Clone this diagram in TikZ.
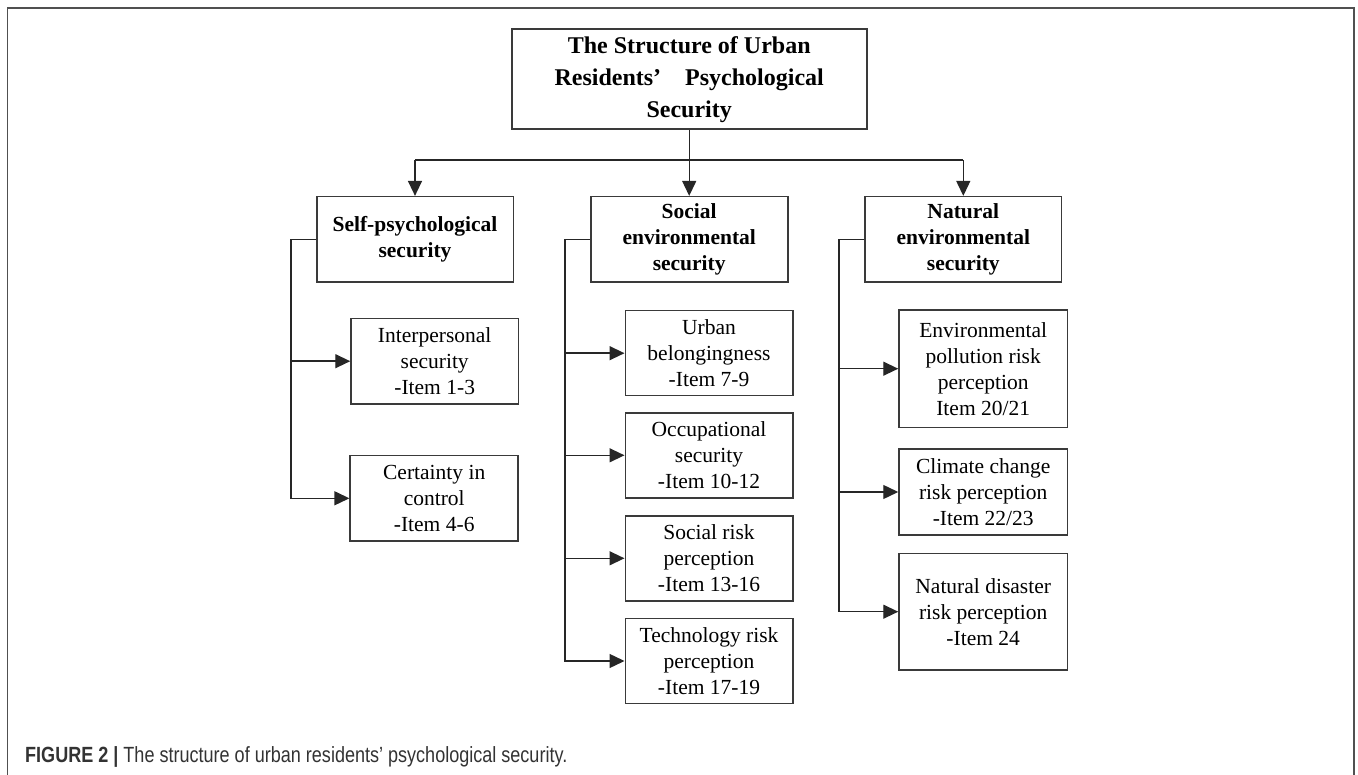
\documentclass[tikz,border=0pt]{standalone}
\usepackage{fontspec}
\setmainfont{Liberation Serif}
\newfontfamily\capfont[FakeStretch=0.82]{Liberation Sans}
\usetikzlibrary{arrows.meta}
\definecolor{framegray}{HTML}{505050}
\definecolor{boxgray}{HTML}{3A3A3A}
\definecolor{captext}{HTML}{333333}
\tikzset{
  box/.style={draw=boxgray, line width=1.6pt, inner sep=0pt, align=center, text=black},
  topbox/.style={box, font=\fontsize{24}{32}\selectfont\bfseries},
  lvlbox/.style={box, font=\fontsize{21.5}{26}\selectfont\bfseries},
  itembox/.style={box, font=\fontsize{21.5}{26}\selectfont},
  conn/.style={draw=black!85, line width=1.4pt},
  arr/.style={conn, -{Triangle[length=15pt,width=14pt]}},
}
\begin{document}
\begin{tikzpicture}[x=1pt,y=-1pt]
\useasboundingbox (0,0) rectangle (1358,775);
\draw[framegray, line width=1.5pt] (7.5,776) -- (7.5,8) -- (1354,8) -- (1354,776);

\node[topbox, minimum width=355pt, minimum height=100pt] (top) at (689.2,79.2)
  {The Structure of Urban\\Residents’\quad Psychological\\Security};

\node[lvlbox, minimum width=196.6pt, minimum height=85.6pt] (self) at (415,239.5)
  {Self-psychological\\security};
\node[lvlbox, minimum width=197pt, minimum height=85.6pt] (social) at (689.2,239.5)
  {Social\\environmental\\security};
\node[lvlbox, minimum width=196.7pt, minimum height=85.6pt] (natural) at (963.3,239.5)
  {Natural\\environmental\\security};

\node[itembox, minimum width=167.3pt, minimum height=85.7pt] (inter) at (434.7,361.2)
  {Interpersonal\\security\\-Item 1-3};
\node[itembox, minimum width=168pt, minimum height=85.3pt] (cert) at (434.2,498.3)
  {Certainty in\\control\\-Item 4-6};

\node[itembox, minimum width=167.4pt, minimum height=85pt] (urban) at (709,353.2)
  {Urban\\belongingness\\-Item 7-9};
\node[itembox, minimum width=167.4pt, minimum height=85pt] (occ) at (709,455.3)
  {Occupational\\security\\-Item 10-12};
\node[itembox, minimum width=167.4pt, minimum height=85pt] (socrisk) at (709,558.3)
  {Social risk\\perception\\-Item 13-16};
\node[itembox, minimum width=167.4pt, minimum height=85pt] (tech) at (709,661)
  {Technology risk\\perception\\-Item 17-19};

\node[itembox, minimum width=168.3pt, minimum height=117.3pt] (env) at (983.2,368.7)
  {Environmental\\pollution risk\\perception\\Item 20/21};
\node[itembox, minimum width=168.3pt, minimum height=86pt] (climate) at (983.2,492)
  {Climate change\\risk perception\\-Item 22/23};
\node[itembox, minimum width=168.3pt, minimum height=116.7pt] (disaster) at (983.2,611.7)
  {Natural disaster\\risk perception\\-Item 24};

% top level connectors
\coordinate (bus) at (689.2,160);
\draw[arr] (top.south) -- (social.north);
\draw[conn] (bus -| self.north) -- (bus -| natural.north);
\draw[arr] (bus -| self.north) -- (self.north);
\draw[arr] (bus -| natural.north) -- (natural.north);

% self trunk
\coordinate (t1) at (291,0);
\draw[arr] (self.west) -- (self.west -| t1) |- (cert.west);
\draw[arr] (t1 |- inter.west) -- (inter.west);

% social trunk
\coordinate (t2) at (565,0);
\draw[arr] (social.west) -- (social.west -| t2) |- (tech.west);
\draw[arr] (t2 |- urban.west) -- (urban.west);
\draw[arr] (t2 |- occ.west) -- (occ.west);
\draw[arr] (t2 |- socrisk.west) -- (socrisk.west);

% natural trunk
\coordinate (t3) at (839,0);
\draw[arr] (natural.west) -- (natural.west -| t3) |- (disaster.west);
\draw[arr] (t3 |- env.west) -- (env.west);
\draw[arr] (t3 |- climate.west) -- (climate.west);

\node[anchor=base west, inner sep=0pt, text=captext, font=\capfont\fontsize{22}{26}\selectfont] (cap) at (25,762)
  {\textbf{FIGURE 2 |} The structure of urban residents’ psychological security.};
\end{tikzpicture}
\end{document}
